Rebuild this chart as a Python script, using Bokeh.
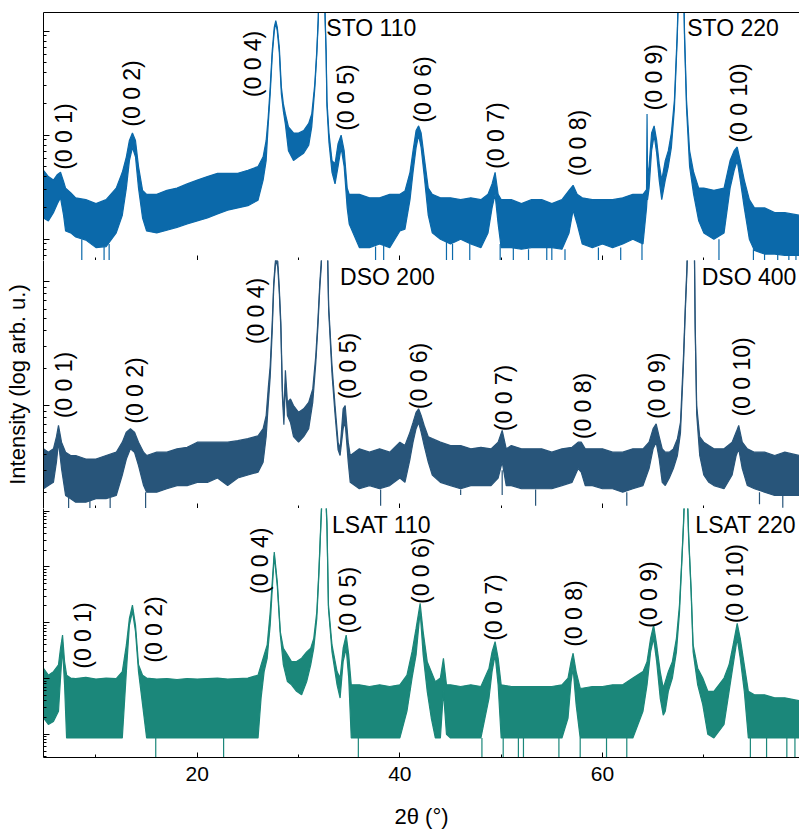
from math import pi
from bokeh.plotting import figure
from bokeh.layouts import column
from bokeh.models import Range1d, FixedTicker, LinearAxis
from bokeh.core.properties import value
from bokeh.embed import file_html
from bokeh.resources import INLINE

FONT = "Liberation Sans"

# ---------------- data (2theta in degrees, intensity in counts) ----------------
# STO substrate film: upper / lower edge of the noisy trace
sto_x = [4.82, 5.3, 5.8, 6.2, 6.5, 6.8, 7.0, 7.5, 8.0, 9.0, 10.0, 11.0, 12.0, 12.6, 13.0, 13.3, 13.6, 13.9, 14.2, 14.6,
         15.0, 16.0, 17.0, 18.0, 19.0, 20.0, 21.0, 22.0, 23.0, 24.0, 25.0, 26.0, 26.5, 26.8, 27.0, 27.2, 27.4, 27.6,
         27.75, 27.9, 28.1, 28.3, 28.5, 28.7, 29.0, 29.5, 30.0, 30.5, 31.0, 31.3, 31.6, 31.8, 31.95, 32.3, 32.62,
         32.72, 32.8, 33.0, 33.3, 33.6, 33.9, 34.2, 34.5, 34.8, 35.0, 36.0, 37.0, 38.0, 39.0, 40.0, 40.5, 41.0, 41.3,
         41.6, 41.85, 42.1, 42.4, 42.8, 43.2, 44.0, 45.0, 46.0, 47.0, 48.0, 48.7, 49.1, 49.4, 49.7, 50.0, 51.0, 52.0,
         53.0, 54.0, 55.0, 56.0, 56.7, 57.1, 57.5, 58.0, 59.0, 60.0, 61.0, 62.0, 63.0, 64.0, 64.35, 64.4, 64.45, 64.6,
         64.85, 65.1, 65.35, 65.6, 65.85, 66.2, 66.5, 66.8, 67.1, 67.38, 67.5, 67.77, 68.03, 68.1, 68.3, 68.6, 69.0,
         69.5, 70.0, 71.0, 72.0, 72.6, 73.0, 73.3, 73.6, 74.0, 74.5, 75.0, 76.0, 77.0, 78.0, 79.45]
sto_hi = [46, 40, 37, 42, 44, 36, 31, 28, 25, 24, 22, 24, 31, 44, 62, 89, 105, 89, 50, 29.5,
          27, 27, 29.5, 31, 34, 37, 40, 43, 43, 43, 46, 50, 62, 89, 148, 290, 652, 1090,
          1267, 1090, 700, 290, 200, 160, 120, 105, 105, 111, 130, 160, 310, 650, 1400, 100000, 1400,
          650, 216, 105, 57, 53, 83, 100, 71, 31, 27, 27, 25, 25, 27, 27, 29, 44, 71,
          111, 123, 105, 62, 31, 27, 25, 25, 24, 25, 24, 27, 34, 44, 27, 24, 24, 22,
          24, 24, 22, 24, 29.5, 33, 27, 25, 24, 24, 24, 25, 27, 27, 30, 160, 40, 50,
          105, 123, 89, 53, 37, 57, 71, 105, 216, 960, 2500, 60000, 2500, 960, 216, 71, 44,
          31, 31, 29.5, 31, 57, 71, 77, 57, 37, 24, 20, 20, 18, 18, 17]
sto_lo = [16, 15, 18, 22, 25, 17, 12, 11.5, 10.5, 9.8, 8.3, 8.5, 11.5, 17, 31, 57, 76, 62, 31, 16,
          12, 11.5, 12.2, 13, 14, 15, 16, 17.5, 19, 20, 21, 23.7, 37, 57, 125, 250, 580, 1000,
          1200, 1000, 620, 250, 170, 127, 71, 57, 62, 67, 80, 120, 280, 600, 1300, 90000, 1300,
          600, 190, 85, 44, 34, 50, 76, 50, 20, 14, 8.3, 8.3, 9, 8.3, 12, 12.5, 24, 44,
          76, 100, 76, 41, 17, 11.5, 10, 9, 10, 9, 8.3, 11.5, 20, 27, 14, 8.3, 8.3, 8,
          8.3, 8.3, 8.3, 8, 11.5, 19, 14, 9, 8.3, 9, 8.3, 9, 10, 9, 20, 24, 24, 31,
          71, 100, 67, 37, 24, 37, 50, 76, 180, 850, 2200, 50000, 2200, 850, 180, 50, 27,
          15, 11.5, 10, 11.5, 31, 46, 57, 37, 20, 10, 7.8, 7.2, 7.2, 7, 7]
sto_spike_x = [8.6, 10.8, 11.3, 37.6, 38.4, 44.6, 45.2, 46.9, 49.9, 51.2, 52.7, 54.5, 55.0, 56.3, 59.6, 61.8,
               63.9, 71.5, 74.9, 76.0, 77.3, 78.4, 79.1]
sto_spike_top = [10, 8.5, 9, 8.5, 9, 9.5, 9, 9, 9, 8.3, 8, 8.3, 8.3, 8, 8.3, 8.3, 9, 10, 8, 7.2, 7.2, 7, 7]
sto_spike_bot = [6.0] * len(sto_spike_x)

# DSO substrate film
dso_x = [4.82, 5.3, 5.8, 6.1, 6.3, 6.6, 7.0, 7.5, 8.0, 9.0, 10.0, 11.0, 12.0, 12.6, 13.0, 13.4, 13.8, 14.2, 14.7,
         15.0, 16.0, 17.0, 18.0, 19.0, 20.0, 21.0, 22.0, 23.0, 24.0, 25.0, 26.0, 26.5, 26.8, 27.0, 27.2, 27.4,
         27.55, 27.75, 27.95, 28.1, 28.25, 28.4, 28.55, 28.7, 28.9, 29.2, 29.5, 30.0, 30.5, 31.0, 31.4, 31.7, 31.9,
         32.1, 32.25, 32.4, 32.58, 32.78, 32.88, 32.97, 33.3, 33.6, 33.9, 34.1, 34.4, 34.6, 34.9, 35.1, 36.0, 37.0,
         38.0, 39.0, 40.0, 40.5, 41.0, 41.3, 41.6, 41.85, 42.1, 42.4, 42.8, 43.2, 44.0, 45.0, 46.0, 47.0, 48.0,
         49.0, 49.7, 50.1, 50.5, 51.0, 52.0, 53.0, 54.0, 55.0, 56.0, 57.0, 57.6, 57.9, 58.3, 59.0, 60.0, 61.0,
         62.0, 63.0, 64.0, 64.6, 65.0, 65.3, 65.6, 65.9, 66.2, 66.6, 67.0, 67.4, 67.7, 67.85, 68.0, 68.18, 68.34,
         68.45, 68.75, 69.05, 69.15, 69.3, 69.6, 70.0, 70.5, 71.0, 72.0, 72.8, 73.2, 73.45, 73.8, 74.3, 75.0,
         76.0, 77.0, 78.0, 79.45]
dso_hi = [44.7, 42, 44.7, 56, 69, 50.6, 42, 39.5, 39.5, 37, 37, 39.5, 42, 50.6, 61, 65, 61, 50.6, 42,
          39.5, 42, 42, 44.7, 46, 50.6, 50.6, 50.6, 50.6, 52, 54, 57, 65, 83, 136, 210, 470,
          987, 1600, 1450, 873, 470, 136, 83, 192, 106, 113, 100, 88, 94, 106, 136, 253, 470,
          987, 1500, 8000, 50000, 8000, 1500, 640, 210, 100, 50.6, 44.7, 94, 100, 50.6, 39.5, 44.7, 42,
          44.7, 42, 50.6, 47.5, 61, 73, 88, 94, 83, 69, 56, 54, 50.6, 47.5, 47.5, 44.7, 46,
          44.7, 50.6, 63, 44.7, 47.5, 44.7, 44.7, 44.7, 42, 44.7, 46, 50.6, 50.6, 44.7, 44.7, 44.7, 42,
          42, 44.7, 44.7, 50.6, 65, 71, 56, 44.7, 42, 42, 44.7, 54, 73, 136, 253, 640, 1340,
          3000, 50000, 3000, 470, 100, 56, 50.6, 47.5, 44.7, 44.7, 50.6, 61, 69, 50.6, 44.7, 42,
          42, 39.5, 42, 39.5]
dso_lo = [21.3, 22.6, 24, 35, 50.6, 31, 18.8, 17.7, 16.6, 16.6, 17.7, 17.7, 18.8, 27.5, 37, 44.7, 42, 32.8, 22.6,
          20, 20, 21.3, 22.6, 22.6, 24, 24, 26, 22.6, 26, 27.5, 29, 34.9, 56, 100, 170, 400,
          900, 1500, 1300, 800, 420, 120, 70, 150, 83, 73, 56, 50.6, 56, 65, 106, 220, 420,
          900, 1350, 7000, 45000, 7000, 1350, 580, 180, 85, 44, 39.5, 65, 73, 35, 24, 21.3, 22.6,
          21.3, 22.6, 26, 24, 37, 50.6, 65, 73, 61, 47.5, 35, 27.5, 24, 22.6, 21.3, 22.6, 22.6,
          22.6, 26, 35, 22.6, 22.6, 21.3, 21.3, 21.3, 21.3, 22.6, 24, 31, 29, 22.6, 22.6, 21.3, 21.3,
          20, 21.3, 22.6, 31, 44.7, 50.6, 37, 24, 22.6, 26, 31, 39.5, 60, 115, 220, 580, 1200,
          2700, 45000, 2700, 420, 85, 39.5, 27.5, 24, 22.6, 21.3, 27.5, 39.5, 44.7, 31, 22.6, 21.3,
          20, 18.8, 18.8, 18.8]
dso_spike_x = [7.3, 9.4, 11.4, 14.9, 38.1, 46.0, 50.1, 53.4, 62.4, 75.5, 77.8]
dso_spike_top = [18, 17, 18, 20, 21, 21, 30, 21, 20, 20, 19]
dso_spike_bot = [14.5, 14.5, 14.5, 14.8, 15.5, 19, 19, 15.5, 15.5, 16, 15]

# LSAT substrate film
lsat_x = [4.82, 5.3, 5.8, 6.3, 6.5, 6.7, 6.9, 7.1, 7.5, 8.0, 9.0, 10.0, 11.0, 12.0, 12.6, 13.0, 13.3, 13.6,
          13.9, 14.2, 14.6, 15.0, 16.0, 17.0, 18.0, 19.0, 20.0, 21.0, 22.0, 23.0, 24.0, 25.0, 26.0, 26.3, 26.6,
          26.9, 27.2, 27.4, 27.6, 27.9, 28.2, 28.5, 28.9, 29.3, 29.8, 30.3, 30.8, 31.2, 31.5, 31.8, 32.0, 32.2,
          32.5, 32.8, 32.95, 33.3, 33.8, 34.1, 34.4, 34.7, 34.95, 35.2, 36.0, 37.0, 38.0, 39.0, 40.0, 40.7, 41.2,
          41.6, 42.0, 42.3, 42.7, 43.1, 43.5, 44.0, 44.3, 44.6, 45.0, 46.0, 47.0, 48.0, 48.8, 49.1, 49.4, 49.7,
          50.0, 51.0, 52.0, 53.0, 54.0, 55.0, 56.0, 56.6, 56.9, 57.1, 57.4, 57.8, 58.0, 59.0, 60.0, 61.0, 62.0,
          63.0, 64.0, 64.4, 64.75, 65.05, 65.35, 65.7, 66.0, 66.2, 66.5, 66.9, 67.3, 67.6, 67.85, 68.0, 68.25,
          68.5, 68.6, 68.75, 68.95, 69.4, 69.9, 70.4, 71.0, 72.0, 72.5, 72.9, 73.3, 73.6, 74.0, 74.4, 75.0, 76.0,
          77.0, 78.0, 79.45]
lsat_hi = [153, 115, 133, 176, 349, 602, 201, 115, 102, 100, 105, 98, 102, 100, 133, 400, 1200, 2070,
           910, 176, 115, 102, 98, 100, 96, 100, 98, 100, 102, 98, 100, 102, 115, 176, 265,
           400, 1570, 5390, 18500, 5390, 690, 349, 265, 201, 201, 231, 300, 349, 526, 1570, 8150, 63000,
           1500000, 63000, 2070, 400, 133, 102, 349, 602, 265, 77, 77, 72, 77, 72, 77, 115, 300,
           790, 2220, 690, 201, 133, 88, 102, 231, 77, 77, 72, 77, 72, 153, 300, 458, 231,
           77, 72, 72, 72, 72, 72, 77, 102, 201, 284, 133, 67, 67, 72, 72, 77, 77,
           102, 133, 201, 526, 910, 400, 133, 67, 88, 133, 201, 526, 2070, 16000, 63000, 1500000,
           40000, 16000, 4100, 400, 153, 102, 59, 59, 102, 176, 400, 975, 526, 176, 59, 51, 51,
           45, 45, 40]
lsat_lo = [19.6, 15, 17, 26, 102, 349, 77, 8.6, 8.6, 8.6, 8.6, 8.6, 8.6, 8.6, 8.6, 133, 900, 1600,
           700, 133, 34, 8.6, 8.6, 8.6, 8.6, 8.6, 8.6, 8.6, 8.6, 8.6, 8.6, 8.6, 8.6, 44.7, 133,
           231, 910, 4000, 16000, 4500, 600, 176, 88, 77, 59, 51, 88, 176, 349, 1200, 7000, 55000,
           1000000, 55000, 1800, 300, 77, 44.7, 201, 349, 102, 8.6, 8.6, 8.6, 8.6, 8.6, 8.6, 26, 102,
           265, 1600, 265, 59, 19.6, 8.6, 8.6, 59, 10, 8.6, 8.6, 8.6, 8.6, 44.7, 133, 265, 77,
           8.6, 8.6, 8.6, 8.6, 8.6, 8.6, 8.6, 19.6, 88, 153, 34, 8.6, 8.6, 8.6, 8.6, 8.6, 8.6,
           8.6, 26, 77, 300, 526, 201, 44.7, 22, 26, 59, 102, 300, 1500, 14000, 55000, 1000000,
           35000, 14000, 3500, 300, 77, 34, 10, 8.6, 15, 59, 176, 526, 231, 59, 8.6, 8.6, 8.6,
           8.6, 8.6, 8.6]
lsat_spike_x = [15.9, 22.6, 35.9, 48.1, 50.2, 51.7, 52.2, 55.7, 57.8, 60.4, 62.4, 74.6, 76.2, 78.2, 79.0]
lsat_spike_top = [8.6] * len(lsat_spike_x)
lsat_spike_bot = [3.5] * len(lsat_spike_x)

# reflection labels: (2theta, intensity) anchor of the rotated text
hkl_text = ["(0 0 1)", "(0 0 2)", "(0 0 4)", "(0 0 5)", "(0 0 6)", "(0 0 7)", "(0 0 8)", "(0 0 9)", "(0 0 10)"]
sto_lab_x = [6.87, 13.6, 25.48, 34.7, 42.27, 49.52, 57.57, 65.1, 73.5]
sto_lab_y = [97, 252, 484, 230, 275, 99, 84, 361, 204]
dso_lab_x = [6.87, 13.9, 25.83, 34.9, 41.92, 50.3, 58.06, 65.36, 73.8]
dso_lab_y = [146, 132, 578, 208, 173, 115, 99, 144, 170]
lsat_lab_x = [8.7, 15.76, 26.2, 34.9, 42.1, 49.3, 57.2, 64.6, 73.1]
lsat_lab_y = [590, 757, 12900, 2540, 8550, 1870, 1460, 3190, 5010]

sub_text = {"sto": ["STO 110", "STO 220"], "dso": ["DSO 200", "DSO 400"], "lsat": ["LSAT 110", "LSAT 220"]}
sub_x = {"sto": [32.74, 68.37], "dso": [34.1, 69.8], "lsat": [33.3, 69.17]}
sub_y = {"sto": [1085, 1085], "dso": [1087, 1087], "lsat": [55600, 55600]}

x_major_ticks = [20, 40, 60]
x_minor_ticks = [10, 30, 50, 70]

X_RANGE = (4.82, 79.45)
Y_RANGES = {"sto": (6.24, 1513), "dso": (14.76, 1477), "lsat": (3.84, 111700)}
COLORS = {"sto": "#0b69aa", "dso": "#28557a", "lsat": "#1b877a"}


def hide_labels(ax):
    ax.major_label_text_font_size = "1px"
    ax.major_label_text_color = None
    ax.major_label_standoff = 0


def panel(key, xs, hi, lo, sx, stop, sbot, lab_x, lab_y, height, top_border, bottom_area, last):
    p = figure(width=799, height=height, x_range=Range1d(*X_RANGE), y_range=Range1d(*Y_RANGES[key]),
               y_axis_type="log", output_backend="svg", toolbar_location=None,
               min_border_left=43, min_border_right=0, min_border_top=top_border,
               min_border_bottom=bottom_area)
    p.outline_line_color = None
    p.grid.visible = False
    c = COLORS[key]
    p.varea(x=xs, y1=lo, y2=hi, fill_color=c)
    p.line(xs, hi, line_color=c, line_width=1.2)
    p.line(xs, lo, line_color=c, line_width=1.2)
    p.segment(x0=sx, y0=stop, x1=sx, y1=sbot, line_color=c, line_width=1.2)
    p.text(x=lab_x, y=lab_y, text=hkl_text, angle=pi / 2, text_align="center", text_baseline="middle",
           text_font=value(FONT), text_font_size="23px", text_color="black")
    p.text(x=sub_x[key], y=sub_y[key], text=sub_text[key], text_align="left", text_baseline="middle",
           text_font=value(FONT), text_font_size="23px", text_color="black")

    ya = p.yaxis[0]
    hide_labels(ya)
    ya.major_tick_in = 6
    ya.major_tick_out = 0
    ya.minor_tick_in = 3
    ya.minor_tick_out = 0
    ya.axis_line_color = "black"
    ya.major_tick_line_color = "black"
    ya.minor_tick_line_color = "black"

    xa = p.xaxis[0]
    xa.ticker = FixedTicker(ticks=x_major_ticks, minor_ticks=x_minor_ticks)
    xa.major_tick_in = 5
    xa.major_tick_out = 0
    xa.minor_tick_in = 3
    xa.minor_tick_out = 0
    xa.axis_line_color = "black"
    xa.major_tick_line_color = "black"
    xa.minor_tick_line_color = "black"
    if last:
        xa.major_label_text_font = FONT
        xa.major_label_text_font_size = "21px"
        xa.major_label_text_color = "black"
        xa.major_label_standoff = 9
        xa.axis_label = "2θ (°)"
        xa.axis_label_text_font = FONT
        xa.axis_label_text_font_size = "22px"
        xa.axis_label_text_font_style = "normal"
        xa.axis_label_text_color = "black"
        xa.axis_label_standoff = 20
    else:
        hide_labels(xa)
    return p


p1 = panel("sto", sto_x, sto_hi, sto_lo, sto_spike_x, sto_spike_top, sto_spike_bot,
           sto_lab_x, sto_lab_y, 260, 12, 0, False)
top_axis = LinearAxis(ticker=FixedTicker(ticks=x_major_ticks, minor_ticks=[]), major_tick_in=0, major_tick_out=0,
                      minor_tick_in=0, minor_tick_out=0, axis_line_color="black")
hide_labels(top_axis)
p1.add_layout(top_axis, "above")

p2 = panel("dso", dso_x, dso_hi, dso_lo, dso_spike_x, dso_spike_top, dso_spike_bot,
           dso_lab_x, dso_lab_y, 248, 0, 0, False)
p2.yaxis[0].axis_label = "Intensity (log arb. u.)"
p2.yaxis[0].axis_label_text_font = FONT
p2.yaxis[0].axis_label_text_font_size = "22px"
p2.yaxis[0].axis_label_text_font_style = "normal"
p2.yaxis[0].axis_label_text_color = "black"
p2.yaxis[0].axis_label_standoff = 14

p3 = panel("lsat", lsat_x, lsat_hi, lsat_lo, lsat_spike_x, lsat_spike_top, lsat_spike_bot,
           lsat_lab_x, lsat_lab_y, 323, 0, 73, True)

layout = column(p1, p2, p3, spacing=0)
open("out.html", "w").write(file_html(layout, INLINE))
